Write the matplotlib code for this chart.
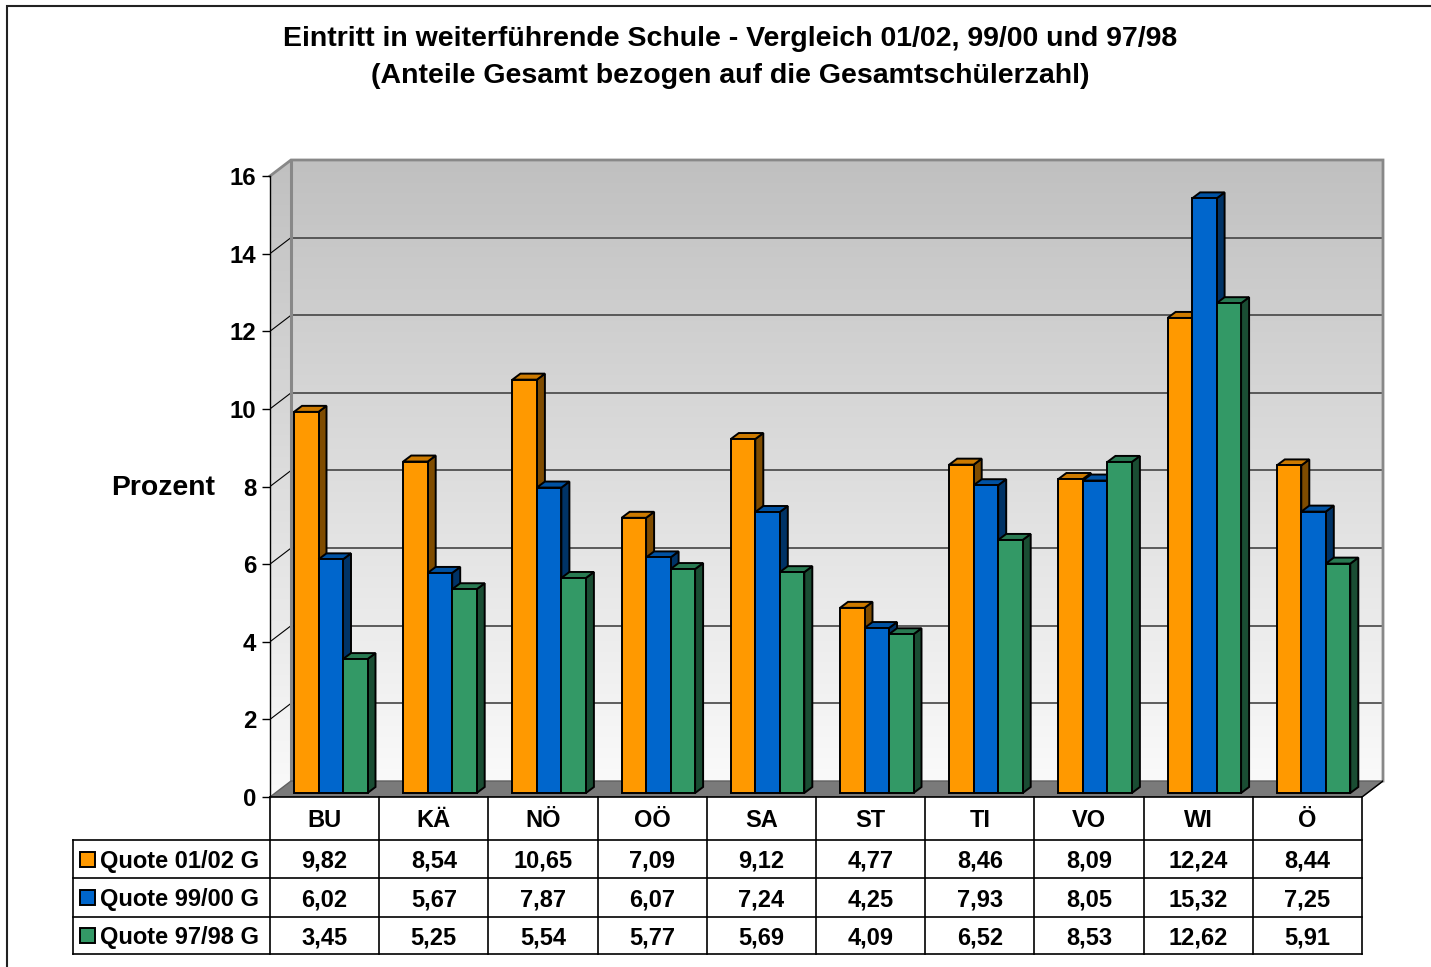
import numpy as np
import matplotlib.pyplot as plt
from matplotlib.patches import Polygon, Rectangle
from matplotlib.colors import LinearSegmentedColormap

# data
regions = ['BU', 'KÄ', 'NÖ', 'OÖ', 'SA', 'ST', 'TI', 'VO', 'WI', 'Ö']
series_names = ['Quote 01/02 G', 'Quote 99/00 G', 'Quote 97/98 G']
quote_0102 = [9.82, 8.54, 10.65, 7.09, 9.12, 4.77, 8.46, 8.09, 12.24, 8.44]
quote_9900 = [6.02, 5.67, 7.87, 6.07, 7.24, 4.25, 7.93, 8.05, 15.32, 7.25]
quote_9798 = [3.45, 5.25, 5.54, 5.77, 5.69, 4.09, 6.52, 8.53, 12.62, 5.91]
y_ticks = [0, 2, 4, 6, 8, 10, 12, 14, 16]

series = [quote_0102, quote_9900, quote_9798]
front_cols = ['#FF9900', '#0066CC', '#339966']
side_cols = ['#7F4C00', '#003366', '#1A4D33']
top_cols = ['#CC7A00', '#0052A3', '#297A52']

plt.rcParams['font.family'] = ['Liberation Sans', 'DejaVu Sans']
plt.rcParams['font.weight'] = 'bold'

W, H = 1431, 967
CAT = 109.2    # px per category
UNIT = 38.81   # px per percent
DX, DY = 21 / CAT, 16 / UNIT   # depth of the 3d box
YMAX = 16

fig = plt.figure(figsize=(W / 100, H / 100), dpi=100)
fig.patches.append(Rectangle((7 / W, -0.05), 1.2, 1 - 6 / H + 0.05, transform=fig.transFigure,
                             fill=False, edgecolor='#222222', linewidth=1.5))

ax = fig.add_axes([270 / W, (H - 797) / H, (1383 - 270) / W, (797 - 160) / H])
ax.patch.set_visible(False)

# back wall with gradient
cmap = LinearSegmentedColormap.from_list('wall', ['#C0C0C0', '#FAFAFA'])
grad = np.linspace(0, 1, 256).reshape(-1, 1)
ax.imshow(grad, cmap=cmap, aspect='auto', extent=[-0.5 + DX, 9.5 + DX, DY, YMAX + DY],
          origin='upper', zorder=0, interpolation='bilinear')
# left wall
lw_poly = Polygon([(-0.5, 0), (-0.5 + DX, DY), (-0.5 + DX, YMAX + DY), (-0.5, YMAX)],
                  closed=True, facecolor='none', edgecolor='none')
ax.add_patch(lw_poly)
img = ax.imshow(grad, cmap=cmap, aspect='auto', extent=[-0.5, -0.5 + DX, 0, YMAX + DY],
                origin='upper', zorder=0, interpolation='bilinear')
img.set_clip_path(lw_poly)
ax.set_xlim(-0.5, 9.5 + DX)
ax.set_ylim(0, YMAX + DY)

# gridlines
for t in y_ticks[1:-1]:
    ax.plot([-0.5 + DX, 9.5 + DX], [t + DY, t + DY], color='#444444', lw=1.2, zorder=1)
    ax.plot([-0.5, -0.5 + DX], [t, t + DY], color='black', lw=0.8, zorder=1)

# wall borders
ax.plot([-0.5, -0.5 + DX, 9.5 + DX, 9.5 + DX], [YMAX, YMAX + DY, YMAX + DY, DY],
        color='#888888', lw=2, zorder=1.2, clip_on=False, solid_joinstyle='miter')
ax.plot([-0.5 + DX, -0.5 + DX], [DY, YMAX + DY], color='#888888', lw=2.2, zorder=1.2)

# floor
ax.add_patch(Polygon([(-0.5, 0), (9.5, 0), (9.5 + DX, DY), (-0.5 + DX, DY)], closed=True,
                     facecolor='#7A7A7A', edgecolor='#606060', lw=1, zorder=2))
ax.plot([9.5, 9.5 + DX], [0, DY], color='black', lw=1, zorder=2.1)

# bars
x = np.arange(len(regions))
off = 24 / CAT
bw = 24.5 / CAT
base = 4 / UNIT
sdx, sdy = 8 / CAT, 6 / UNIT
for j, vals in enumerate(series):
    z = 3 + j * 0.1
    left = x - 0.5 + off + j * bw
    ax.bar(left, vals, width=bw, bottom=base, align='edge', color=front_cols[j],
           edgecolor='black', linewidth=1.4, zorder=z + 0.05)
    for xl, v in zip(left, vals):
        xr = xl + bw
        yt = v + base
        ax.add_patch(Polygon([(xr, base), (xr + sdx, base + sdy), (xr + sdx, yt + sdy), (xr, yt)],
                             closed=True, facecolor=side_cols[j], edgecolor='black', lw=1.4, zorder=z))
        ax.add_patch(Polygon([(xl, yt), (xr, yt), (xr + sdx, yt + sdy), (xl + sdx, yt + sdy)],
                             closed=True, facecolor=top_cols[j], edgecolor='black', lw=1.4, zorder=z))

# axis
for s in ['top', 'right', 'bottom']:
    ax.spines[s].set_visible(False)
ax.spines['left'].set_bounds(0, YMAX)
ax.spines['left'].set_linewidth(1)
ax.spines['left'].set_zorder(2.5)
ax.set_xticks([])
ax.set_yticks(y_ticks)
ax.tick_params(axis='y', direction='out', length=5.8, width=1, pad=4, labelsize=17.3)
ax.set_ylabel('Prozent', rotation=0, fontsize=20.4, fontweight='bold', ha='right', va='center')
ax.yaxis.set_label_coords((215 - 270) / 1113, (797 - 488) / 637)

# data table
rows = [0, -43 / UNIT, -81 / UNIT, -120 / UNIT, -157 / UNIT]
leg_left = -0.5 - 197 / CAT
tkw = dict(color='black', lw=1.2, clip_on=False, zorder=5)
ax.plot([-0.5, 9.5], [rows[0], rows[0]], **tkw)
for r in rows[1:]:
    ax.plot([leg_left, 9.5], [r, r], **tkw)
for i in range(len(regions) + 1):
    ax.plot([i - 0.5, i - 0.5], [rows[0], rows[-1]], **tkw)
ax.plot([leg_left, leg_left], [rows[1], rows[-1]], **tkw)

fs = 17
shift = 2 / UNIT
for i, reg in enumerate(regions):
    ax.text(i, (rows[0] + rows[1]) / 2 - shift, reg, ha='center', va='center', fontsize=fs,
            fontweight='bold')
for j, vals in enumerate(series):
    yc = (rows[j + 1] + rows[j + 2]) / 2
    ax.add_patch(Rectangle((leg_left + 7 / CAT, yc - 7.5 / UNIT), 15 / CAT, 15 / UNIT,
                           facecolor=front_cols[j], edgecolor='black', lw=1.4, clip_on=False, zorder=5))
    ax.text(leg_left + 27 / CAT, yc - shift, series_names[j], ha='left', va='center', fontsize=fs,
            fontweight='bold')
    for i, v in enumerate(vals):
        ax.text(i, yc - shift, f'{v:.2f}'.replace('.', ','), ha='center', va='center', fontsize=fs,
                fontweight='bold')

fig.text(730 / W, 1 - 39 / H, 'Eintritt in weiterführende Schule - Vergleich 01/02, 99/00 und 97/98',
         ha='center', va='center', fontsize=20.5, fontweight='bold')
fig.text(730 / W, 1 - 76 / H, '(Anteile Gesamt bezogen auf die Gesamtschülerzahl)',
         ha='center', va='center', fontsize=20.5, fontweight='bold')

fig.savefig('out.png', dpi=100)
